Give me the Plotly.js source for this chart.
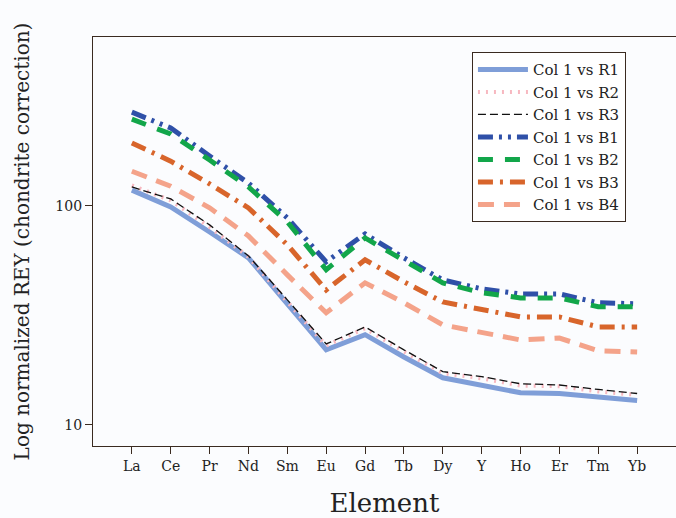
<!DOCTYPE html>
<html>
<head>
<meta charset="utf-8">
<script src="https://cdn.plot.ly/plotly-3.0.1.min.js"></script>
<style>
  html, body { margin: 0; padding: 0; background: #fbfcfe; }
  #chart { width: 676px; height: 518px; }
</style>
</head>
<body>
<div id="chart"></div>
<script>
const elements = ["La","Ce","Pr","Nd","Sm","Eu","Gd","Tb","Dy","Y","Ho","Er","Tm","Yb"];
const seriesNames = ["Col 1 vs R1","Col 1 vs R2","Col 1 vs R3","Col 1 vs B1","Col 1 vs B2","Col 1 vs B3","Col 1 vs B4"];
const r1 = [118, 99, 76, 57.9, 35.7, 22.0, 25.8, 20.4, 16.4, 15.2, 14.0, 13.9, 13.4, 12.9];
const r2 = [124, 106, 80, 58.5, 36.5, 23.0, 27.6, 21.6, 17.2, 16.3, 15.1, 15.0, 14.2, 13.7];
const r3 = [122, 107.6, 81.9, 59.1, 37.2, 23.4, 28.0, 22.0, 17.5, 16.6, 15.4, 15.2, 14.5, 13.9];
const b1 = [268, 227, 169, 127, 88.1, 55.5, 74.5, 57.9, 45.9, 41.8, 39.6, 39.6, 36.1, 35.7];
const b2 = [249, 213, 162, 122, 84.5, 51.1, 71.4, 56.7, 44.5, 40.1, 38.0, 38.0, 34.6, 34.6];
const b3 = [194, 160, 126, 97.9, 66.4, 41.3, 56.7, 45.0, 36.4, 33.5, 31.1, 31.1, 28.0, 28.0];
const b4 = [144, 123, 98, 72.9, 48.4, 32.5, 44.5, 36.1, 28.6, 26.3, 24.4, 24.9, 21.8, 21.5];
const yTickVals = [10, 100];
const yTickText = ["10", "100"];

const seriesValues = [r1, r2, r3, b1, b2, b3, b4];
const styles = [
  {color: "#7f9ed8", width: 5, dash: "solid"},
  {color: "#f7b8c0", width: 4, dash: "2px,6px"},
  {color: "#111111", width: 1.3, dash: "8px,4px"},
  {color: "#2f50a8", width: 5, dash: "15px,6px,3px,6px,3px,6px"},
  {color: "#12a64a", width: 5, dash: "15px,12px"},
  {color: "#d8652b", width: 5, dash: "15px,7px,3px,7px"},
  {color: "#f4a38a", width: 5, dash: "16px,10px"}
];

const traces = seriesValues.map((vals, i) => ({
  type: "scatter",
  mode: "lines",
  x: elements,
  y: vals,
  name: seriesNames[i],
  line: {color: styles[i].color, width: styles[i].width, dash: styles[i].dash}
}));

const serif = "DejaVu Serif, Liberation Serif, serif";
const layout = {
  width: 676,
  height: 518,
  margin: {l: 93, r: 0, t: 37, b: 72},
  paper_bgcolor: "#fbfcfe",
  plot_bgcolor: "#fbfcfe",
  font: {family: serif, color: "#222222"},
  showlegend: true,
  legend: {
    x: 0.65, y: 0.963, xanchor: "left", yanchor: "top",
    bgcolor: "#ffffff", bordercolor: "#3a2a20", borderwidth: 1,
    itemwidth: 50, entrywidth: 178, entrywidthmode: "pixels",
    font: {family: serif, size: 15, color: "#222222"}
  },
  xaxis: {
    type: "category",
    range: [-1, 14],
    showline: true, mirror: true, linecolor: "#3a2a20", linewidth: 1.3,
    showgrid: false, zeroline: false,
    ticks: "outside", ticklen: 7, tickcolor: "#3a2a20",
    tickfont: {family: serif, size: 14, color: "#222222"},
    title: {text: "Element", font: {family: serif, size: 26, color: "#222222"}, standoff: 30}
  },
  yaxis: {
    type: "log",
    range: [Math.log10(8.0), Math.log10(591)],
    showline: true, mirror: true, linecolor: "#3a2a20", linewidth: 1.3,
    showgrid: false, zeroline: false,
    tickvals: yTickVals, ticktext: yTickText,
    ticks: "outside", ticklen: 7, tickcolor: "#3a2a20",
    tickfont: {family: serif, size: 14, color: "#222222"},
    title: {text: "Log normalized REY (chondrite correction)", font: {family: serif, size: 20, color: "#222222"}, standoff: 20}
  }
};

Plotly.newPlot("chart", traces, layout, {displayModeBar: false});
</script>
</body>
</html>
